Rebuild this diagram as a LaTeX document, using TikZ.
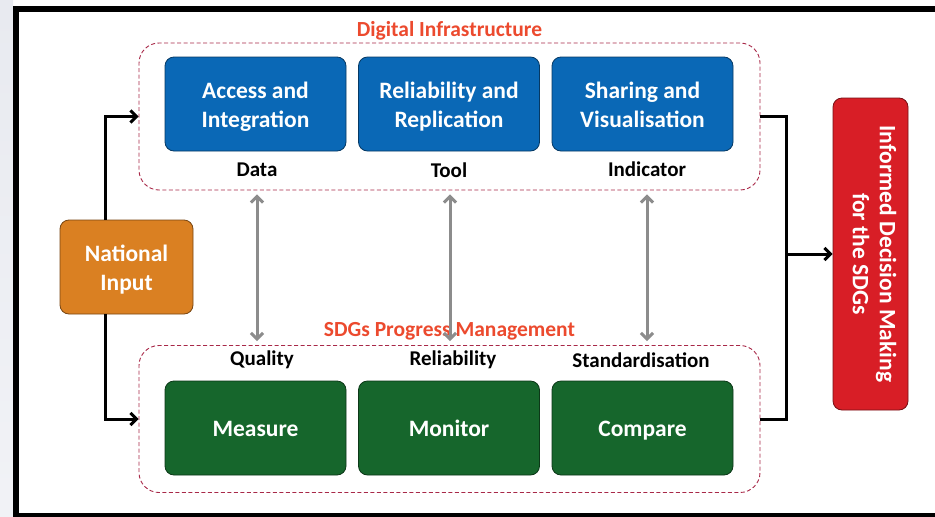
\documentclass[tikz,border=0pt]{standalone}
\usepackage{fontspec}
\setmainfont{Carlito}
\usepackage{xcolor}
\usepackage{tikz}
\definecolor{bleuinfra}{RGB}{10,104,182}
\definecolor{vertsuivi}{RGB}{22,102,44}
\definecolor{orangenat}{RGB}{218,128,34}
\definecolor{rougedec}{RGB}{216,30,38}
\definecolor{rougetitre}{RGB}{236,74,46}
\definecolor{tirets}{RGB}{168,40,72}
\definecolor{grisfleche}{RGB}{140,140,140}
\definecolor{fondgris}{RGB}{232,234,240}
\usetikzlibrary{arrows.meta}

\tikzset{
  boite/.style={draw=#1!55!black, fill=#1, line width=0.8pt, rounded corners=9pt,
    minimum width=181pt, minimum height=94pt, align=center, text=white,
    font=\bfseries\fontsize{23.5}{29}\selectfont,
    execute at begin node=\rule{0pt}{26pt}, execute at end node=\strut},
  deuxlignes/.style={text height=56pt},
  groupe/.style={draw=tirets, line width=0.9pt, dash pattern=on 4pt off 2.5pt,
    rounded corners=20pt, minimum width=621pt, minimum height=147pt},
  titregroupe/.style={text=rougetitre, inner sep=0pt, font=\bfseries\fontsize{21.5}{25}\selectfont},
  etiquette/.style={font=\bfseries\fontsize{21}{25}\selectfont},
  lien/.style={line width=3pt, -{Straight Barb[length=6pt,width=12pt]}},
  double/.style={line width=3pt, grisfleche, {Straight Barb[length=6pt,width=12pt]}-{Straight Barb[length=6pt,width=12pt]},
    shorten <=4pt, shorten >=4pt}
}

\begin{document}
\begin{tikzpicture}[x=1pt, y=-1pt]
        \useasboundingbox (0,0) rectangle (935,517);
        \fill[white] (0,0) rectangle (935,517);
        \shade[top color=fondgris, bottom color=fondgris!60!white] (0,0) rectangle (13,517);
        \draw[line width=6pt] (960,9) -- (16,9) -- (16,516) -- (960,516);

        \node[groupe] (infra) at (449.5,116.5) {};
        \node[groupe] (suivi) at (449.5,419) {};
        \node[titregroupe, above=2pt] at (infra.north) {Digital Infrastructure};
        \node[titregroupe, above=5pt] (titresuivi) at (suivi.north) {SDGs Progress Management};

        \node[boite=bleuinfra, deuxlignes] (acces) at (255.5,104) {Access and\\Integration};
        \node[boite=bleuinfra, deuxlignes] (fiab) at (449,104) {Reliability and\\Replication};
        \node[boite=bleuinfra, deuxlignes] (partage) at (642.5,104) {Sharing and\\Visualisation};
        \node[etiquette] (data) at (257,170) {Data};
        \node[etiquette] (tool) at (449,170) {Tool};
        \node[etiquette] (indic) at (647,169) {Indicator};

        \node[etiquette] (qualite) at (262,360) {Quality};
        \node[etiquette] (fiabilite) at (453,360) {Reliability};
        \node[etiquette] (norme) at (641,360) {Standardisation};
        \node[boite=vertsuivi] (mesure) at (255.5,428) {Measure};
        \node[boite=vertsuivi] (suivre) at (449,428) {Monitor};
        \node[boite=vertsuivi] (compare) at (642.5,428) {Compare};

        \node[boite=orangenat, deuxlignes, minimum width=133pt] (national) at (126.5,267) {National\\Input};
        \node[boite=rougedec, rotate=-90, minimum width=312pt, minimum height=75pt,
          font=\bfseries\fontsize{23.5}{27}\selectfont,
          execute at begin node=\strut] (decision) at (870.5,254)
          {Informed Decision Making\\for the SDGs};

        \draw[double] (data.south |- infra.south) -- (data.south |- suivi.north);
        \draw[double] (450,0 |- infra.south) -- (450,0 |- suivi.north);
        \draw[double] (indic.south |- infra.south) -- (indic.south |- suivi.north);

        \draw[lien] ([xshift=-21.5pt]national.north) |- (infra.west);
        \draw[lien] ([xshift=-21.5pt]national.south) |- (suivi.west);
        \coordinate (bus) at ([xshift=26pt]infra.east);
        \draw[line width=3pt] (infra.east) -- (bus) |- (suivi.east);
        \draw[lien] (bus |- decision.center) -- (decision.south);
\end{tikzpicture}
\end{document}
